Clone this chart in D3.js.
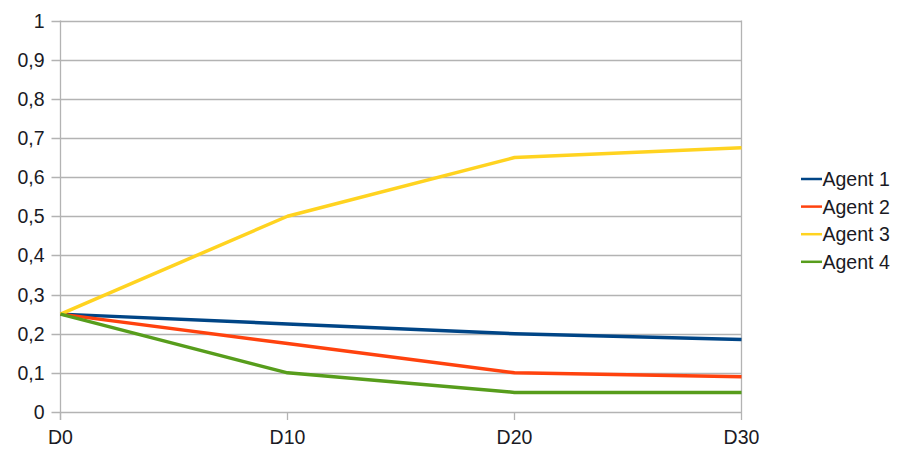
<!DOCTYPE html>
<html>
<head>
<meta charset="utf-8">
<script src="https://cdn.jsdelivr.net/npm/d3@7"></script>
<style>
  html, body { margin: 0; padding: 0; background: #fff; }
  svg text { font-family: "Liberation Sans", Arial, sans-serif; fill: #1a1a24; }
</style>
</head>
<body>
<svg id="chart" width="910" height="451"></svg>
<script>
const categories = ["D0", "D10", "D20", "D30"];
const seriesNames = ["Agent 1", "Agent 2", "Agent 3", "Agent 4"];
const agent1 = [0.25, 0.225, 0.2, 0.185];
const agent2 = [0.25, 0.175, 0.1, 0.09];
const agent3 = [0.25, 0.5, 0.65, 0.675];
const agent4 = [0.25, 0.1, 0.05, 0.05];
const seriesColors = ["#004586", "#ff420e", "#ffd320", "#579d1c"];
const yTicks = [0, 0.1, 0.2, 0.3, 0.4, 0.5, 0.6, 0.7, 0.8, 0.9, 1];

const series = [agent1, agent2, agent3, agent4].map((values, i) => ({
  name: seriesNames[i], values, color: seriesColors[i]
}));

const svg = d3.select("#chart");
const plotLeft = 60.5, plotRight = 741.5, plotTop = 20.5, plotBottom = 412;
const fontSize = "19.5px";

const x = d3.scalePoint().domain(categories).range([plotLeft, plotRight]);
const y = d3.scaleLinear().domain([0, 1]).range([plotBottom, plotTop]);

const fmt = v => d3.format("~g")(v).replace(".", ",");

// horizontal grid
svg.append("g").selectAll("line").data(yTicks).join("line")
  .attr("x1", plotLeft - 9).attr("x2", plotRight)
  .attr("y1", d => Math.round(y(d)) + 0.5).attr("y2", d => Math.round(y(d)) + 0.5)
  .attr("stroke", "#b3b3b3").attr("stroke-width", 1.3);

// vertical axis line and right border
svg.append("line").attr("x1", plotLeft).attr("x2", plotLeft).attr("y1", plotTop).attr("y2", plotBottom + 8)
  .attr("stroke", "#b3b3b3").attr("stroke-width", 1.3);
svg.append("line").attr("x1", plotRight).attr("x2", plotRight).attr("y1", plotTop).attr("y2", plotBottom)
  .attr("stroke", "#b3b3b3").attr("stroke-width", 1.3);

// x tick marks
svg.append("g").selectAll("line").data(categories).join("line")
  .attr("x1", d => x(d)).attr("x2", d => x(d))
  .attr("y1", plotBottom).attr("y2", plotBottom + 8)
  .attr("stroke", "#b3b3b3").attr("stroke-width", 1.3);

// y tick labels
svg.append("g").selectAll("text").data(yTicks).join("text")
  .attr("x", plotLeft - 16).attr("y", d => y(d))
  .attr("dy", "0.36em").attr("text-anchor", "end")
  .style("font-size", fontSize)
  .text(fmt);

// x tick labels
svg.append("g").selectAll("text").data(categories).join("text")
  .attr("x", d => x(d)).attr("y", plotBottom + 25)
  .attr("dy", "0.36em").attr("text-anchor", "middle")
  .style("font-size", fontSize)
  .text(d => d);

// series lines
const line = d3.line().x((d, i) => x(categories[i])).y(d => y(d));
svg.append("g").selectAll("path").data(series).join("path")
  .attr("d", d => line(d.values))
  .attr("fill", "none")
  .attr("stroke", d => d.color)
  .attr("stroke-width", 3.5)
  .attr("stroke-linejoin", "round");

// legend
const legend = svg.append("g").attr("transform", "translate(801,179)");
const rows = legend.selectAll("g").data(series).join("g")
  .attr("transform", (d, i) => `translate(0,${i * 27.6})`);
rows.append("line").attr("x1", 0).attr("x2", 21).attr("y1", 0).attr("y2", 0)
  .attr("stroke", d => d.color).attr("stroke-width", 2.5);
rows.append("text").attr("x", 21.5).attr("y", 0).attr("dy", "0.36em")
  .style("font-size", fontSize)
  .text(d => d.name);
</script>
</body>
</html>
